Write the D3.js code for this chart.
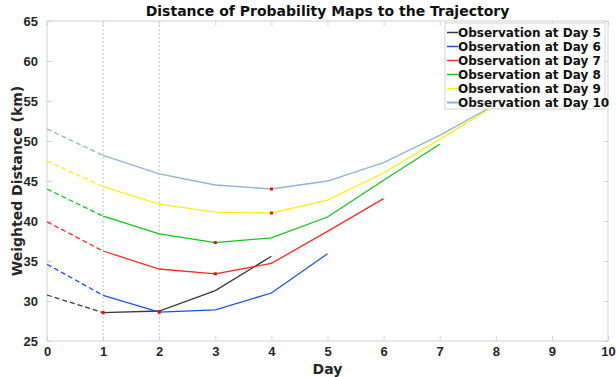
<!DOCTYPE html>
<html>
<head>
<meta charset="utf-8">
<script src="https://cdn.jsdelivr.net/npm/d3@7"></script>
<style>
  html, body { margin: 0; padding: 0; background: #fff; }
  svg { display: block; font-family: "DejaVu Sans", sans-serif; }
</style>
</head>
<body>
<svg id="chart" width="616" height="377"></svg>
<script>
// Weighted distance (km) of each probability map to the trajectory, per day
const days = [0, 1, 2, 3, 4, 5, 6, 7, 8, 9, 10];
const seriesNames = [
  "Observation at Day 5", "Observation at Day 6", "Observation at Day 7",
  "Observation at Day 8", "Observation at Day 9", "Observation at Day 10"
];
const obsDay5  = [30.75, 28.55, 28.75, 31.3, 35.6];
const obsDay6  = [34.6, 30.7, 28.6, 28.9, 31.0, 35.9];
const obsDay7  = [39.9, 36.25, 34.0, 33.4, 34.7, 38.7, 42.8];
const obsDay8  = [44.0, 40.6, 38.4, 37.3, 37.9, 40.5, 45.1, 49.6];
const obsDay9  = [47.5, 44.3, 42.1, 41.1, 41.0, 42.6, 46.0, 50.2, 54.5];
const obsDay10 = [51.5, 48.2, 45.9, 44.5, 44.0, 45.0, 47.3, 50.7, 54.6];
const seriesValues = [obsDay5, obsDay6, obsDay7, obsDay8, obsDay9, obsDay10];
const seriesColors = ["#3a3a3a", "#1e50e6", "#ff2a2a", "#12c41e", "#ffee1a", "#8fb4d6"];
const yTicks = [25, 30, 35, 40, 45, 50, 55, 60, 65];
const gridDays = [1, 2];

const svg = d3.select("#chart");
const plotL = 47, plotR = 608, plotT = 21, plotB = 341;
const x = d3.scaleLinear().domain([0, 10]).range([plotL, plotR]);
const y = d3.scaleLinear().domain([25, 65]).range([plotB, plotT]);
const frameColor = "#d4d4d4";
const textColor = "#262626";

// dotted vertical guides
svg.append("g").selectAll("line").data(gridDays).join("line")
  .attr("x1", d => x(d)).attr("x2", d => x(d))
  .attr("y1", plotT).attr("y2", plotB)
  .attr("stroke", "#c4c4c4").attr("stroke-width", 1)
  .attr("stroke-dasharray", "2,2");

// axes with inward ticks on all four sides
const axisStyle = g => {
  g.select(".domain").remove();
  g.selectAll(".tick line").attr("stroke", frameColor);
};
svg.append("g").attr("transform", `translate(0,${plotB})`)
  .call(d3.axisBottom(x).tickValues(days).tickSizeInner(-5).tickSizeOuter(0).tickPadding(6).tickFormat(d3.format("d")))
  .call(axisStyle)
  .selectAll("text").attr("fill", textColor).style("font-size", "13px").style("font-weight", "bold");
svg.append("g").attr("transform", `translate(0,${plotT})`)
  .call(d3.axisTop(x).tickValues(days).tickSizeInner(-5).tickSizeOuter(0).tickFormat(""))
  .call(axisStyle);
svg.append("g").attr("transform", `translate(${plotL},0)`)
  .call(d3.axisLeft(y).tickValues(yTicks).tickSizeInner(-5).tickSizeOuter(0).tickPadding(9).tickFormat(d3.format("d")))
  .call(axisStyle)
  .selectAll("text").attr("fill", textColor).style("font-size", "13px").style("font-weight", "bold");
svg.append("g").attr("transform", `translate(${plotR},0)`)
  .call(d3.axisRight(y).tickValues(yTicks).tickSizeInner(-5).tickSizeOuter(0).tickFormat(""))
  .call(axisStyle);

// frame
svg.append("rect")
  .attr("x", plotL).attr("y", plotT)
  .attr("width", plotR - plotL).attr("height", plotB - plotT)
  .attr("fill", "none").attr("stroke", frameColor).attr("stroke-width", 1);

const line = d3.line().x(d => x(d.day)).y(d => y(d.v));

seriesValues.forEach((vals, i) => {
  const pts = vals.map((v, k) => ({ day: days[k], v }));
  // extrapolated first segment, dashed
  svg.append("path").datum(pts.slice(0, 2))
    .attr("d", line).attr("fill", "none")
    .attr("stroke", seriesColors[i]).attr("stroke-width", 1.3)
    .attr("stroke-dasharray", "5,3");
  svg.append("path").datum(pts.slice(1))
    .attr("d", line).attr("fill", "none")
    .attr("stroke", seriesColors[i]).attr("stroke-width", 1.3);
});

// minimum-distance markers
seriesValues.forEach(vals => {
  const k = d3.minIndex(vals);
  svg.append("rect")
    .attr("x", x(days[k]) - 1.5).attr("y", y(vals[k]) - 1.5)
    .attr("width", 3).attr("height", 3).attr("fill", "#ff0000");
});

// legend
const lg = svg.append("g");
const lgX = 445, lgY = 23, rowH = 14;
lg.append("rect").attr("x", lgX).attr("y", lgY).attr("width", 160).attr("height", 86)
  .attr("fill", "#fff").attr("stroke", frameColor).attr("stroke-width", 1);
seriesNames.forEach((name, i) => {
  const cy = lgY + 9.5 + i * rowH;
  lg.append("line").attr("x1", lgX + 2).attr("x2", lgX + 13)
    .attr("y1", cy).attr("y2", cy)
    .attr("stroke", seriesColors[i]).attr("stroke-width", i === 5 ? 2 : 1.5);
  lg.append("text").attr("x", lgX + 13).attr("y", cy).attr("dy", "0.35em")
    .attr("fill", "#111").style("font-size", "12px").style("font-weight", "bold")
    .text(name);
});

// titles
svg.append("text").attr("x", (plotL + plotR) / 2).attr("y", 16)
  .attr("text-anchor", "middle").attr("fill", "#111")
  .style("font-size", "14px").style("font-weight", "bold")
  .text("Distance of Probability Maps to the Trajectory");
svg.append("text").attr("x", (plotL + plotR) / 2).attr("y", 374)
  .attr("text-anchor", "middle").attr("fill", textColor)
  .style("font-size", "14px").style("font-weight", "bold")
  .text("Day");
svg.append("text")
  .attr("transform", `translate(22,${(plotT + plotB) / 2}) rotate(-90)`)
  .attr("text-anchor", "middle").attr("fill", textColor)
  .style("font-size", "14px").style("font-weight", "bold")
  .text("Weighted Distance (km)");
</script>
</body>
</html>
